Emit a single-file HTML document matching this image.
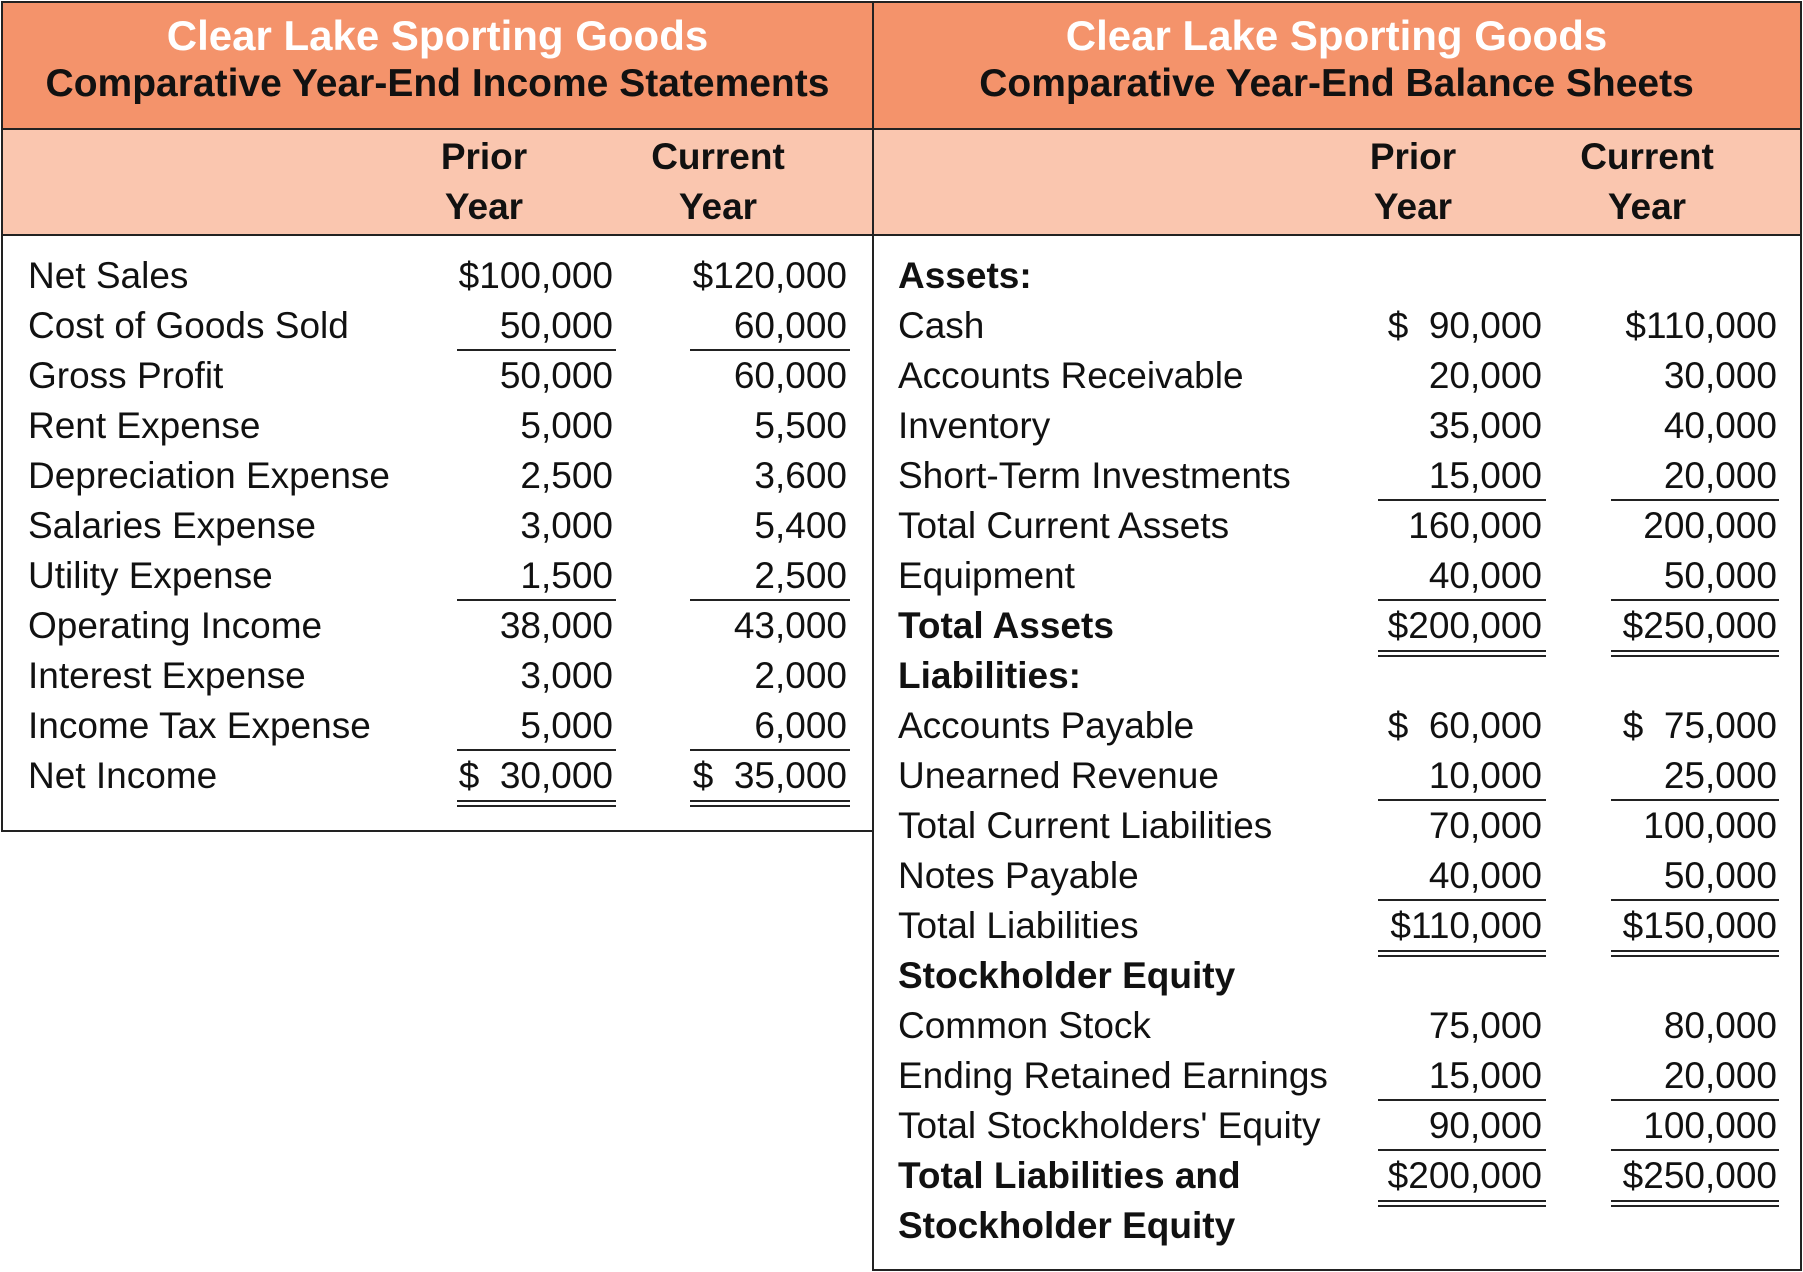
<!DOCTYPE html>
<html><head><meta charset="utf-8"><style>
body{margin:0;width:1803px;height:1272px;background:#fff;position:relative;overflow:hidden;font-family:"Liberation Sans",sans-serif;color:#111}
.box{position:absolute;border:2px solid #222;box-sizing:border-box}
.band{position:absolute;box-sizing:border-box}
.t{position:absolute;white-space:nowrap;font-size:37px;line-height:50px}
.h{position:absolute;white-space:nowrap;text-align:center;font-weight:bold}
.ln{position:absolute;height:0;border-top:2px solid #222}
</style></head><body>
<div class="band" style="left:2px;top:2px;width:871px;height:126px;background:#F4936B"></div>
<div class="band" style="left:2px;top:128px;width:871px;height:108px;background:#FAC6AF;border-top:2px solid #222;border-bottom:2px solid #222"></div>
<div class="box" style="left:1px;top:1px;width:873px;height:831px"></div>
<div class="band" style="left:873px;top:2px;width:927px;height:126px;background:#F4936B"></div>
<div class="band" style="left:873px;top:128px;width:927px;height:108px;background:#FAC6AF;border-top:2px solid #222;border-bottom:2px solid #222"></div>
<div class="box" style="left:872px;top:1px;width:930px;height:1270px"></div>

<div class="h" style="left:2px;width:871px;top:12px;font-size:42px;color:#fff">Clear Lake Sporting Goods</div>
<div class="h" style="left:2px;width:871px;top:62px;font-size:39px">Comparative Year-End Income Statements</div>
<div class="h" style="left:873px;width:927px;top:12px;font-size:42px;color:#fff">Clear Lake Sporting Goods</div>
<div class="h" style="left:873px;width:927px;top:62px;font-size:39px">Comparative Year-End Balance Sheets</div>

<div class="h" style="left:384px;width:200px;top:132px;font-size:37px;line-height:50px">Prior<br>Year</div>
<div class="h" style="left:618px;width:200px;top:132px;font-size:37px;line-height:50px">Current<br>Year</div>
<div class="h" style="left:1313px;width:200px;top:132px;font-size:37px;line-height:50px">Prior<br>Year</div>
<div class="h" style="left:1547px;width:200px;top:132px;font-size:37px;line-height:50px">Current<br>Year</div>

<script>
const incLabels=["Net Sales","Cost of Goods Sold","Gross Profit","Rent Expense","Depreciation Expense","Salaries Expense","Utility Expense","Operating Income","Interest Expense","Income Tax Expense","Net Income"];
const incPrior=["$100,000","50,000","50,000","5,000","2,500","3,000","1,500","38,000","3,000","5,000","$  30,000"];
const incCurrent=["$120,000","60,000","60,000","5,500","3,600","5,400","2,500","43,000","2,000","6,000","$  35,000"];
const incRules=["","u","","","","","u","","","u","d"];
const balLabels=["Assets:","Cash","Accounts Receivable","Inventory","Short-Term Investments","Total Current Assets","Equipment","Total Assets","Liabilities:","Accounts Payable","Unearned Revenue","Total Current Liabilities","Notes Payable","Total Liabilities","Stockholder Equity","Common Stock","Ending Retained Earnings","Total Stockholders' Equity","Total Liabilities and","Stockholder Equity"];
const balBold=[1,0,0,0,0,0,0,1,1,0,0,0,0,0,1,0,0,0,1,1];
const balPrior=["","$  90,000","20,000","35,000","15,000","160,000","40,000","$200,000","","$  60,000","10,000","70,000","40,000","$110,000","","75,000","15,000","90,000","$200,000",""];
const balCurrent=["","$110,000","30,000","40,000","20,000","200,000","50,000","$250,000","","$  75,000","25,000","100,000","50,000","$150,000","","80,000","20,000","100,000","$250,000",""];
const balRules=["","","","","u","","u","d","","","u","","u","d","","","u","u","d",""];

function txt(x,y,s,align,name,bold){
  const d=document.createElement('div');
  d.className='t';
  
  
  d.textContent=s;d.style.whiteSpace='pre';
  d.style.top=y+'px';
  if(align==='r'){d.style.right=(1803-x)+'px';}else{d.style.left=x+'px';}
  if(bold)d.style.fontWeight='bold';
  document.body.appendChild(d);
}
function line(x1,x2,y,name){
  const d=document.createElement('div');
  d.className='ln';
  
  
  d.style.left=x1+'px';d.style.width=(x2-x1)+'px';d.style.top=y+'px';
  document.body.appendChild(d);
}
function rule(kind,x1,x2,i){
  const b=250+50*(i+1);
  if(kind==='u')line(x1,x2,b-1,'underline');
  if(kind==='d'){line(x1,x2,b,'double-underline');line(x1,x2,b+5,'double-underline');}
}
const rowY=i=>251+50*i;
incLabels.forEach((l,i)=>{
  txt(28,rowY(i),l,'l','income-row-label',false);
  txt(613,rowY(i),incPrior[i],'r','income-prior-value',false);
  txt(847,rowY(i),incCurrent[i],'r','income-current-value',false);
  rule(incRules[i],457,616,i);rule(incRules[i],690,850,i);
});
balLabels.forEach((l,i)=>{
  txt(898,rowY(i),l,'l','balance-row-label',balBold[i]);
  if(balPrior[i])txt(1542,rowY(i),balPrior[i],'r','balance-prior-value',false);
  if(balCurrent[i])txt(1777,rowY(i),balCurrent[i],'r','balance-current-value',false);
  rule(balRules[i],1378,1546,i);rule(balRules[i],1611,1779,i);
});
</script>
</body></html>
